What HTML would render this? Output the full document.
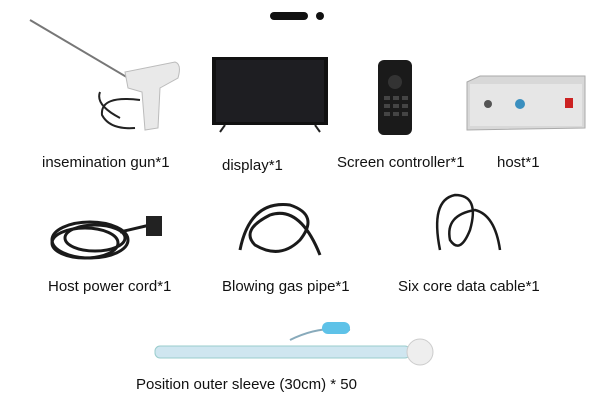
<!DOCTYPE html>
<html><head><meta charset="utf-8"><style>
html,body{margin:0;padding:0;background:#fff;}
#c{position:relative;width:600px;height:409px;overflow:hidden;font-family:"Liberation Sans",sans-serif;color:#111;}
.t{position:absolute;font-size:15px;white-space:nowrap;}
svg{position:absolute;left:0;top:0;}
</style></head><body><div id="c">
<svg width="600" height="409" viewBox="0 0 600 409">
 <rect x="270" y="12" width="38" height="8" rx="4" fill="#111"/>
 <circle cx="320" cy="16" r="4" fill="#111"/>
 <!-- gun -->
 <line x1="30" y1="20" x2="135" y2="82" stroke="#777" stroke-width="2"/>
 <path d="M125 72 L175 62 Q182 64 178 78 L160 88 L158 128 L145 130 L142 92 L128 88 Z" fill="#e9e9e9" stroke="#bbb"/>
 <path d="M140 100 Q100 95 102 115 Q110 130 135 128 M100 92 Q95 105 120 118" fill="none" stroke="#222" stroke-width="2"/>
 <!-- TV -->
 <rect x="212" y="57" width="116" height="68" fill="#111"/>
 <rect x="216" y="60" width="108" height="62" fill="#1e1e22"/>
 <line x1="225" y1="125" x2="220" y2="132" stroke="#222" stroke-width="2"/>
 <line x1="315" y1="125" x2="320" y2="132" stroke="#222" stroke-width="2"/>
 <!-- remote -->
 <rect x="378" y="60" width="34" height="75" rx="6" fill="#1a1a1a"/>
 <circle cx="395" cy="82" r="7" fill="#333"/>
 <g fill="#444"><rect x="384" y="96" width="6" height="4"/><rect x="393" y="96" width="6" height="4"/><rect x="402" y="96" width="6" height="4"/><rect x="384" y="104" width="6" height="4"/><rect x="393" y="104" width="6" height="4"/><rect x="402" y="104" width="6" height="4"/><rect x="384" y="112" width="6" height="4"/><rect x="393" y="112" width="6" height="4"/><rect x="402" y="112" width="6" height="4"/></g>
 <!-- host -->
 <path d="M467 82 L480 76 L585 76 L585 128 L467 130 Z" fill="#d8d8d8" stroke="#aaa"/>
 <rect x="470" y="84" width="112" height="42" fill="#e6e6e6"/>
 <circle cx="488" cy="104" r="4" fill="#555"/><circle cx="520" cy="104" r="5" fill="#3a8fbf"/><rect x="565" y="98" width="8" height="10" fill="#c22"/>
 <!-- power cord -->
 <g fill="none" stroke="#1a1a1a" stroke-width="3">
  <ellipse cx="90" cy="240" rx="38" ry="18"/><ellipse cx="95" cy="238" rx="30" ry="13"/><ellipse cx="85" cy="243" rx="33" ry="15"/>
  <path d="M120 232 L150 225"/></g>
 <rect x="146" y="216" width="16" height="20" fill="#222"/>
 <!-- gas pipe -->
 <g fill="none" stroke="#1a1a1a" stroke-width="3">
  <path d="M240 250 Q250 200 290 205 Q320 215 300 240 Q280 260 255 245 Q240 230 270 215 Q300 205 320 255"/></g>
 <!-- data cable -->
 <g fill="none" stroke="#1a1a1a" stroke-width="2.5">
  <path d="M440 250 Q430 200 455 195 Q480 195 470 230 Q460 255 450 240 Q445 215 475 210 Q495 215 500 250"/></g>
 <!-- sleeve -->
 <rect x="155" y="346" width="255" height="12" rx="5" fill="#cfe6f0" stroke="#9cc"/>
 <path d="M290 340 Q320 325 350 330" fill="none" stroke="#8ab" stroke-width="2"/>
 <rect x="322" y="322" width="28" height="12" rx="6" fill="#5ec2e8"/>
 <circle cx="420" cy="352" r="13" fill="#eee" stroke="#ccc"/>
</svg>
<div class="t" style="left:42px;top:154px">insemination gun*1</div>
<div class="t" style="left:222px;top:157px">display*1</div>
<div class="t" style="left:337px;top:154px">Screen controller*1</div>
<div class="t" style="left:497px;top:154px">host*1</div>
<div class="t" style="left:48px;top:278px">Host power cord*1</div>
<div class="t" style="left:222px;top:278px">Blowing gas pipe*1</div>
<div class="t" style="left:398px;top:278px">Six core data cable*1</div>
<div class="t" style="left:136px;top:376px">Position outer sleeve (30cm) * 50</div>
</div></body></html>
